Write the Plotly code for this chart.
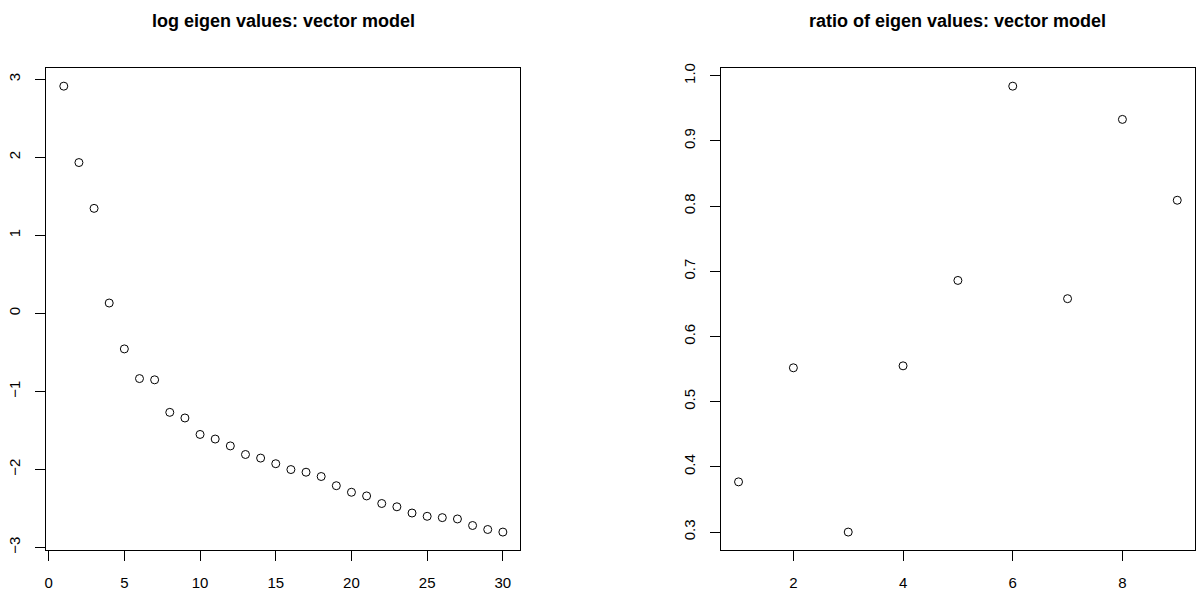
import plotly.graph_objects as go

# ---- data ----
log_index = list(range(1, 31))
log_eigen = [2.912, 1.933, 1.346, 0.133, -0.455, -0.835, -0.851, -1.268, -1.340, -1.551,
             -1.610, -1.698, -1.808, -1.854, -1.926, -2.001, -2.035, -2.090, -2.208, -2.292,
             -2.339, -2.436, -2.478, -2.558, -2.600, -2.617, -2.634, -2.718, -2.769, -2.802]

ratio_index = list(range(1, 10))
ratio_eigen = [0.377, 0.552, 0.300, 0.555, 0.686, 0.984, 0.658, 0.933, 0.809]

title_left = "log eigen values: vector model"
title_right = "ratio of eigen values: vector model"

W, H = 1197, 593


def r_range(vals):
    lo, hi = min(vals), max(vals)
    pad = 0.04 * (hi - lo)
    return [lo - pad, hi + pad]


font_family = "Liberation Sans, Arial, Helvetica, sans-serif"
marker = dict(symbol="circle-open", size=8, color="black", line=dict(width=1, color="black"))

fig = go.Figure()
fig.add_trace(go.Scatter(x=log_index, y=log_eigen, mode="markers", marker=marker,
                         xaxis="x", yaxis="y", showlegend=False))
fig.add_trace(go.Scatter(x=ratio_index, y=ratio_eigen, mode="markers", marker=marker,
                         xaxis="x2", yaxis="y2", showlegend=False))

box_top, box_bot = 64.3, 553.3
ydom = [1 - box_bot / H, 1 - box_top / H]
xdom1 = [44.3 / W, 519.3 / W]
xdom2 = [720.2 / W, 1194.8 / W]

common = dict(showline=True, mirror=True, linecolor="black", linewidth=1,
              ticks="outside", ticklen=10, tickwidth=1, tickcolor="black",
              showgrid=False, zeroline=False,
              tickfont=dict(family=font_family, size=15, color="black"))

fig.update_layout(
    width=W, height=H,
    margin=dict(l=0, r=0, t=0, b=0),
    paper_bgcolor="white", plot_bgcolor="white",
    font=dict(family=font_family, color="black"),
    xaxis=dict(domain=xdom1, range=r_range(log_index), tick0=0, dtick=5,
               anchor="y", ticklabelstandoff=9, **common),
    yaxis=dict(domain=ydom, range=r_range(log_eigen), tick0=0, dtick=1,
               anchor="x", tickangle=-90, ticklabelstandoff=9, **common),
    xaxis2=dict(domain=xdom2, range=r_range(ratio_index), tick0=0, dtick=2,
                anchor="y2", ticklabelstandoff=9, **common),
    yaxis2=dict(domain=ydom, range=r_range(ratio_eigen), tick0=0, dtick=0.1,
                tickformat=".1f", anchor="x2", tickangle=-90, ticklabelstandoff=9, **common),
    annotations=[
        dict(text="<b>" + title_left + "</b>", x=(xdom1[0] + xdom1[1]) / 2, y=1 - 16 / H,
             xref="paper", yref="paper", xanchor="center", yanchor="middle", showarrow=False,
             font=dict(family=font_family, size=18, color="black")),
        dict(text="<b>" + title_right + "</b>", x=(xdom2[0] + xdom2[1]) / 2, y=1 - 16 / H,
             xref="paper", yref="paper", xanchor="center", yanchor="middle", showarrow=False,
             font=dict(family=font_family, size=18, color="black")),
    ],
)

fig.write_html("out.html")
